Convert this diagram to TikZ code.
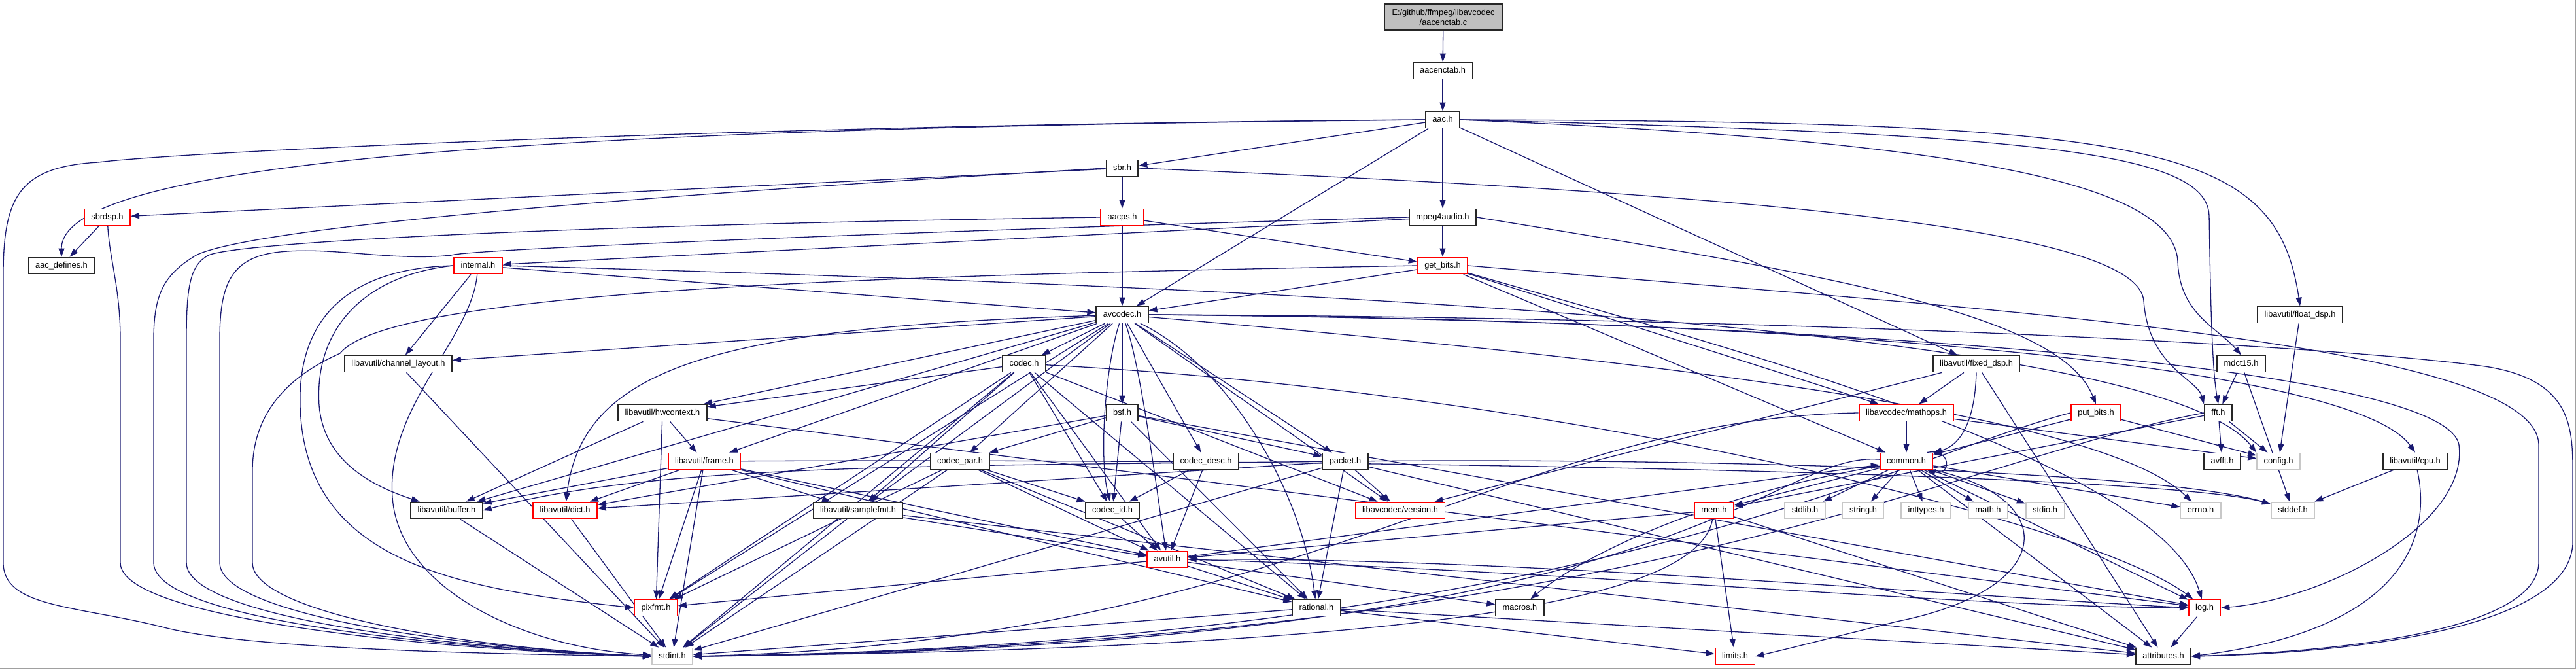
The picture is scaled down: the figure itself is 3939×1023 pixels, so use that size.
\documentclass[tikz,border=0pt]{standalone}
\usepackage{fontspec}
\setmainfont{Liberation Sans}
\usetikzlibrary{arrows.meta}
\definecolor{mblue}{HTML}{191970}
\definecolor{topgray}{HTML}{BFBFBF}
\definecolor{lgray}{HTML}{C8C8C8}
\pgfdeclarelayer{edges}
\pgfsetlayers{edges,main}
\begin{document}
\begin{tikzpicture}[x=1pt,y=-1pt,
  box/.style={rectangle, fill=white, line width=1.8pt, minimum height=25pt, inner xsep=10.5pt, inner ysep=0pt,
    font=\fontsize{12.8}{15}\selectfont, text height=9.5pt, text depth=2.6pt},
  bn/.style={box, draw=black!85},
  rn/.style={box, draw=red},
  gn/.style={box, draw=lgray},
  topnode/.style={rectangle, fill=topgray, draw=black!85, line width=1.8pt, minimum height=40pt, minimum width=180pt,
    inner sep=0pt, align=center, font=\fontsize{12.8}{15}\selectfont},
  edge/.style={draw=mblue, line width=1.3pt, -{Triangle[length=13pt,width=9pt]}},
]
\useasboundingbox (0,0) rectangle (3939,1023);
\draw[lgray!80!black, line width=2pt] (0,1022) -- (3938,1022) -- (3938,0);

% ---------- nodes ----------
\node[topnode] (top) at (2207,26) {E:/github/ffmpeg/libavcodec\\/aacenctab.c};
\node[bn] (aacenctab) at (2206,108) {aacenctab.h};
\node[bn] (aac) at (2206,183) {aac.h};
\node[bn] (sbr) at (1716,257) {sbr.h};
\node[rn] (sbrdsp) at (164,332) {sbrdsp.h};
\node[bn] (aacdefines) at (94,406) {aac\_defines.h};
\node[rn] (aacps) at (1716,332) {aacps.h};
\node[bn] (mpeg4audio) at (2206,332) {mpeg4audio.h};
\node[rn] (internal) at (731,406) {internal.h};
\node[rn] (getbits) at (2206,406) {get\_bits.h};
\node[bn] (avcodec) at (1716,481) {avcodec.h};
\node[bn] (floatdsp) at (3517,481) {libavutil/float\_dsp.h};
\node[bn] (chlayout) at (609,556) {libavutil/channel\_layout.h};
\node[bn] (codec) at (1566,556) {codec.h};
\node[bn] (fixeddsp) at (3022,556) {libavutil/fixed\_dsp.h};
\node[bn] (mdct15) at (3427,556) {mdct15.h};
\node[bn] (hwcontext) at (1013,631) {libavutil/hwcontext.h};
\node[bn] (bsf) at (1716,631) {bsf.h};
\node[rn] (mathops) at (2915,631) {libavcodec/mathops.h};
\node[rn] (putbits) at (3205,631) {put\_bits.h};
\node[bn] (fft) at (3392,631) {fft.h};
\node[rn] (frame) at (1077,705) {libavutil/frame.h};
\node[bn] (codecpar) at (1468,705) {codec\_par.h};
\node[bn] (codecdesc) at (1844,705) {codec\_desc.h};
\node[bn] (packet) at (2057,705) {packet.h};
\node[rn] (common) at (2915,705) {common.h};
\node[bn] (avfft) at (3398,705) {avfft.h};
\node[gn] (config) at (3484,705) {config.h};
\node[bn] (cpu) at (3693,705) {libavutil/cpu.h};
\node[bn] (buffer) at (683,780) {libavutil/buffer.h};
\node[rn] (dict) at (864,780) {libavutil/dict.h};
\node[bn] (samplefmt) at (1312,780) {libavutil/samplefmt.h};
\node[bn] (codecid) at (1701,780) {codec\_id.h};
\node[rn] (version) at (2141,780) {libavcodec/version.h};
\node[rn] (mem) at (2621,780) {mem.h};
\node[gn] (stdlib) at (2760,780) {stdlib.h};
\node[gn] (string) at (2849,780) {string.h};
\node[gn] (inttypes) at (2945,780) {inttypes.h};
\node[gn] (math) at (3040,780) {math.h};
\node[gn] (stdio) at (3127,780) {stdio.h};
\node[gn] (errno) at (3365,780) {errno.h};
\node[gn] (stddef) at (3506,780) {stddef.h};
\node[rn] (avutil) at (1785,855) {avutil.h};
\node[rn] (pixfmt) at (1003,929) {pixfmt.h};
\node[bn] (rational) at (2013,929) {rational.h};
\node[bn] (macros) at (2324,929) {macros.h};
\node[rn] (log) at (3371,929) {log.h};
\node[gn] (stdint) at (1028,1003) {stdint.h};
\node[rn] (limits) at (2653,1003) {limits.h};
\node[bn] (attributes) at (3308,1003) {attributes.h};

\begin{pgfonlayer}{edges}
% ---------- straight connectors ----------
\foreach \a/\b in {top/aacenctab, aacenctab/aac, aac/sbr, aac/avcodec, aac/mpeg4audio, aac/fixeddsp,
  sbr/sbrdsp, sbr/aacps, sbrdsp/aacdefines, aacps/avcodec, aacps/getbits,
  mpeg4audio/getbits, mpeg4audio/internal, internal/avcodec, internal/chlayout,
  getbits/avcodec, getbits/common, getbits/mathops,
  avcodec/chlayout, avcodec/codec, avcodec/hwcontext, avcodec/bsf, avcodec/frame, avcodec/codecpar,
  avcodec/codecdesc, avcodec/packet, avcodec/samplefmt, avcodec/version, avcodec/buffer, avcodec/pixfmt,
  codec/hwcontext, codec/pixfmt, codec/stdint, codec/samplefmt, codec/codecid, codec/avutil, codec/version, codec/rational,
  codecpar/codecid, codecpar/avutil, codecpar/rational, codecpar/pixfmt, codecpar/stdint,
  codecdesc/codecid, codecdesc/avutil, codecid/avutil,
  bsf/codecpar, bsf/codecid, bsf/rational, bsf/packet, bsf/dict, bsf/log,
  packet/version, packet/rational, packet/stdint, packet/attributes, packet/dict,
  frame/stdint, frame/pixfmt, frame/samplefmt, frame/avutil, frame/rational, frame/buffer, frame/dict,
  hwcontext/frame, hwcontext/buffer, hwcontext/pixfmt, hwcontext/log,
  buffer/stdint, dict/stdint, chlayout/stdint,
  samplefmt/stdint, samplefmt/avutil, samplefmt/attributes,
  avutil/pixfmt, avutil/rational, avutil/macros, avutil/common,
  rational/limits, rational/attributes, rational/stdint,
  log/attributes, mem/avutil, mem/limits, mem/attributes,
  common/stdlib, common/string, common/inttypes, common/math, common/stdio, common/errno, common/mem,
  common/attributes, common/log,
  mathops/common, mathops/config, fixeddsp/mathops, fixeddsp/version, fixeddsp/attributes,
  floatdsp/config, mdct15/fft, mdct15/stddef, fft/avfft, fft/config, fft/mem,
  putbits/config, putbits/common, cpu/stddef}
  \draw[edge] (\a) -- (\b);

% ---------- curved connectors ----------
\draw[edge] (aac.west) .. controls (900,195) and (94,240) .. (aacdefines.north);
\draw[edge] (aac.west) .. controls (1200,190) and (300,230) .. (150,248) .. controls (30,255) and (5,300) .. (5,420)
  -- (5,860) .. controls (5,930) and (120,925) .. (255,960) .. controls (400,995) and (800,1000) .. (stdint.west);
\draw[edge] (sbrdsp) .. controls (168,400) and (184,440) .. (184,520) -- (184,860)
  .. controls (184,950) and (700,995) .. (stdint.west);
\draw[edge] (sbr.west) .. controls (700,315) and (360,360) .. (300,390) .. controls (250,420) and (235,450) .. (235,520)
  -- (235,860) .. controls (235,950) and (700,992) .. (stdint.west);
\draw[edge] (aacps.west) .. controls (800,345) and (360,372) .. (319,390) .. controls (290,405) and (285,440) .. (285,520)
  -- (285,860) .. controls (285,945) and (700,992) .. (stdint.west);
\draw[edge] (mpeg4audio.west) .. controls (1500,350) and (720,380) .. (690,390) .. controls (600,400) and (500,375) .. (420,386)
  .. controls (350,396) and (336,440) .. (336,520) -- (336,860) .. controls (336,940) and (700,990) .. (stdint.west);
\draw[edge] (getbits.west) .. controls (1400,420) and (600,440) .. (520,540) .. controls (430,580) and (386,640) .. (386,720)
  -- (386,860) .. controls (386,935) and (700,990) .. (stdint.west);
\draw[edge] (internal) .. controls (720,520) and (590,620) .. (600,760) .. controls (610,900) and (800,990) .. (stdint);
\draw[edge] (internal.west) .. controls (560,420) and (480,500) .. (488,620) .. controls (495,700) and (560,740) .. (buffer);
\draw[edge] (internal.west) .. controls (540,410) and (455,480) .. (459,620) .. controls (465,860) and (700,900) .. (pixfmt.west);
\draw[edge] (internal.east) .. controls (2000,440) and (3300,500) .. (config.north west);
\draw[edge] (aac.east) .. controls (3300,186) and (3480,220) .. (floatdsp.north);
\draw[edge] (aac.east) .. controls (3100,205) and (3375,230) .. (3378,330) .. controls (3380,450) and (3382,560) .. (fft.north);
\draw[edge] (aac.east) .. controls (3000,215) and (3325,280) .. (3330,400) .. controls (3333,480) and (3390,500) .. (mdct15.north);
\draw[edge] (sbr.east) .. controls (2800,300) and (3270,360) .. (3278,460) .. controls (3285,560) and (3360,580) .. (fft.north west);
\draw[edge] (mpeg4audio.east) .. controls (2800,420) and (3150,480) .. (putbits.north);
\draw[edge] (getbits.east) .. controls (3000,470) and (3880,520) .. (3882,680) -- (3882,860)
  .. controls (3880,960) and (3600,995) .. (attributes.east);
\draw[edge] (getbits) .. controls (2600,520) and (3300,700) .. (log);
\draw[edge] (avcodec.east) .. controls (2600,484) and (3500,520) .. (3800,560) .. controls (3930,580) and (3934,650) .. (3934,720)
  -- (3934,830) .. controls (3930,960) and (3600,998) .. (attributes.east);
\draw[edge] (avcodec.east) .. controls (2800,490) and (3740,560) .. (3760,680) .. controls (3775,800) and (3560,915) .. (log.east);
\draw[edge] (avcodec.east) .. controls (2800,488) and (3600,560) .. (cpu.north);
\draw[edge] (avcodec) .. controls (2400,540) and (3200,620) .. (errno);
\draw[edge] (avcodec) .. controls (1100,500) and (890,560) .. (dict);
\draw[edge] (avcodec) .. controls (1690,560) and (1680,700) .. (codecid);
\draw[edge] (avcodec) .. controls (1745,560) and (1770,760) .. (avutil);
\draw[edge] (avcodec) .. controls (1880,560) and (1990,750) .. (rational);
\draw[edge] (codec) .. controls (2400,600) and (3200,800) .. (log);
\draw[edge] (packet) .. controls (1400,712) and (1000,710) .. (buffer.east);
\draw[edge] (packet) .. controls (2600,700) and (3300,720) .. (stddef);
\draw[edge] (frame) .. controls (2000,700) and (3300,722) .. (stddef);
\draw[edge] (avutil.east) .. controls (2400,872) and (3000,928) .. (log.west);
\draw[edge] (log.west) .. controls (2900,905) and (2300,852) .. (avutil.east);
\draw[edge] (mem) .. controls (2600,900) and (2300,990) .. (stdint.east);
\draw[edge] (common) .. controls (2700,690) and (2600,990) .. (stdint.east);
\draw[edge] (common) .. controls (2600,760) and (2420,850) .. (macros);
\draw[edge] (common.south east) .. controls (3150,760) and (3150,900) .. (2900,950) .. controls (2800,975) and (2720,995) .. (limits.east);
\draw[edge] ([xshift=-10pt]common.north east) .. controls +(38,-8) and +(38,10) .. ([xshift=-10pt]common.south east);
\draw[edge] (mathops.west) .. controls (2300,640) and (2000,980) .. (stdint.east);
\draw[edge] (fixeddsp.south) .. controls (3020,640) and (3000,680) .. (common.north east);
\draw[edge] (fft.west) .. controls (3000,700) and (2500,985) .. (stdint.east);
\draw[edge] (putbits.west) .. controls (2900,700) and (2400,985) .. (stdint.east);
\draw[edge] (cpu) .. controls (3715,800) and (3700,960) .. (attributes.east);
\end{pgfonlayer}
\end{tikzpicture}
\end{document}
